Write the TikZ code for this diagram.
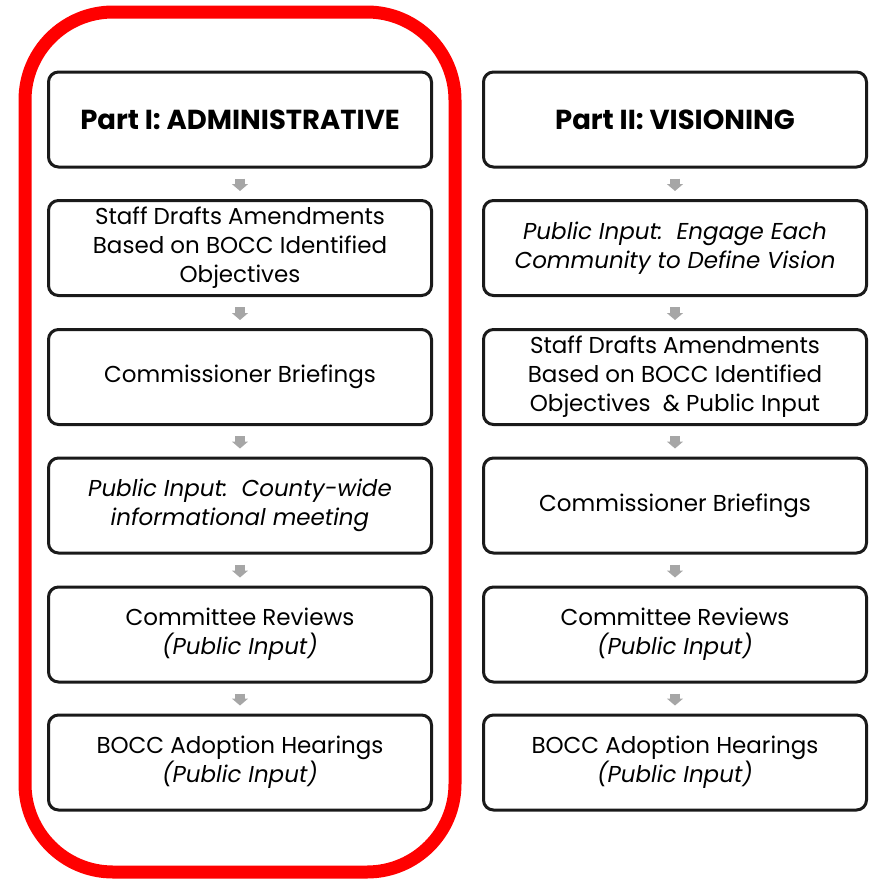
\documentclass[tikz,border=0pt]{standalone}
\usepackage{fontspec}
\setmainfont{Poppins}
\usetikzlibrary{arrows.meta}
\definecolor{flowgray}{HTML}{A6A6A6}
\definecolor{framered}{HTML}{FF0000}
\definecolor{boxline}{HTML}{1A1A1A}
\tikzset{
  stagebox/.style={draw=boxline, line width=3pt, rounded corners=10pt,
    minimum width=383pt, minimum height=95pt, align=center,
    font=\fontsize{23}{29}\selectfont, inner sep=0pt},
  titlebox/.style={stagebox, font=\fontsize{27.5}{30}\selectfont\bfseries},
  flowarrow/.style={draw=flowgray, line width=10pt,
    -{Triangle[width=16pt,length=7pt]}, shorten <=10pt, shorten >=8pt},
  partframe/.style={draw=framered, line width=13pt, rounded corners=88pt}
}
\begin{document}
\begin{tikzpicture}[x=1pt,y=-1pt]
\useasboundingbox (0,0) rectangle (873,879);
% red frame round the administrative track
\draw[partframe] (25,12) rectangle (455,872);

% Part I column
\node[titlebox] (a0) at (240,119.5) {Part I: ADMINISTRATIVE};
\node[stagebox] (a1) at (240,248) {Staff Drafts Amendments\\Based on BOCC Identified\\Objectives};
\node[stagebox] (a2) at (240,377) {Commissioner Briefings};
\node[stagebox] (a3) at (240,505.5) {\itshape Public Input:\ \ County-wide\\\itshape informational meeting};
\node[stagebox] (a4) at (240,634.5) {Committee Reviews\\\itshape (Public Input)};
\node[stagebox] (a5) at (240,762.5) {BOCC Adoption Hearings\\\itshape (Public Input)};

% Part II column
\node[titlebox] (b0) at (675,119.5) {Part II: VISIONING};
\node[stagebox] (b1) at (675,248) {\itshape Public Input:\ \ Engage Each\\\itshape Community to Define Vision};
\node[stagebox] (b2) at (675,377) {Staff Drafts Amendments\\Based on BOCC Identified\\Objectives\ \ \& Public Input};
\node[stagebox] (b3) at (675,505.5) {Commissioner Briefings};
\node[stagebox] (b4) at (675,634.5) {Committee Reviews\\\itshape (Public Input)};
\node[stagebox] (b5) at (675,762.5) {BOCC Adoption Hearings\\\itshape (Public Input)};

% flow arrows between stages
\foreach \c in {a,b}{
  \foreach \i [evaluate=\i as \j using int(\i+1)] in {0,...,4}{
    \draw[flowarrow] (\c\i.south) -- (\c\j.north);
  }
}
\end{tikzpicture}
\end{document}
